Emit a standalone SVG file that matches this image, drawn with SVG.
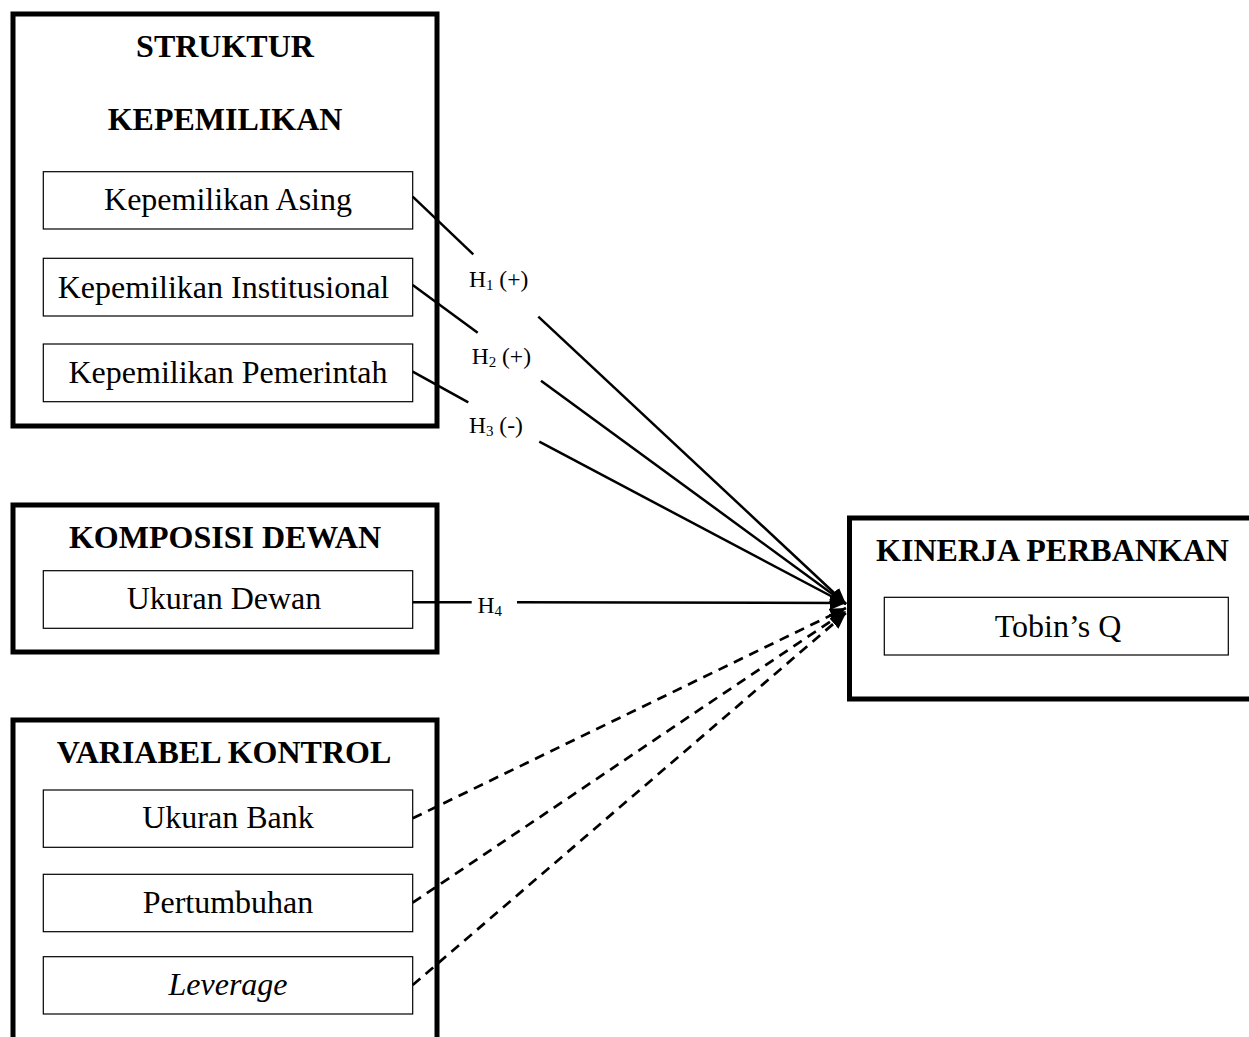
<svg xmlns="http://www.w3.org/2000/svg" width="1249" height="1037" viewBox="0 0 1249 1037">
<defs>
<style>
.outer{fill:#fff;stroke:#000;stroke-width:5}
.inner{fill:#fff;stroke:#000;stroke-width:1.2}
.title{font-family:"Liberation Serif","Times New Roman",serif;font-weight:bold;font-size:32px;text-anchor:middle;fill:#000}
.item{font-family:"Liberation Serif","Times New Roman",serif;font-size:32px;text-anchor:middle;fill:#000}
.lbl{font-family:"Liberation Serif","Times New Roman",serif;font-size:23.5px;fill:#000}
.sub{font-size:15px}
.line{fill:none;stroke:#000;stroke-width:2.5}
.dash{fill:none;stroke:#000;stroke-width:2.7;stroke-dasharray:10 7}
</style>
<marker id="arr" markerUnits="userSpaceOnUse" markerWidth="18" markerHeight="14" refX="16" refY="7" orient="auto">
<path d="M0,0 L16,7 L0,14 Z" fill="#000"/>
</marker>
</defs>
<rect width="1249" height="1037" fill="#fff"/>

<g id="struktur-kepemilikan">
<rect class="outer" x="13" y="14" width="424" height="412"/>
<text class="title" x="225" y="57">STRUKTUR</text>
<text class="title" x="225" y="130">KEPEMILIKAN</text>
<rect class="inner" x="43.3" y="171.7" width="369.4" height="57.3"/>
<text class="item" x="228" y="210">Kepemilikan Asing</text>
<rect class="inner" x="43.3" y="258.3" width="369.4" height="57.7"/>
<text class="item" x="223.5" y="297.7">Kepemilikan Institusional</text>
<rect class="inner" x="43.3" y="344" width="369.4" height="57.7"/>
<text class="item" x="228" y="382.7">Kepemilikan Pemerintah</text>
</g>

<g id="komposisi-dewan">
<rect class="outer" x="13" y="505" width="424" height="147"/>
<text class="title" x="225" y="548.3">KOMPOSISI DEWAN</text>
<rect class="inner" x="43.3" y="570.7" width="369.4" height="57.6"/>
<text class="item" x="224" y="609.3">Ukuran Dewan</text>
</g>

<g id="variabel-kontrol">
<rect class="outer" x="13" y="720" width="424" height="340"/>
<text class="title" x="224" y="763.3">VARIABEL KONTROL</text>
<rect class="inner" x="43.3" y="790" width="369.4" height="57.3"/>
<text class="item" x="228" y="828.3">Ukuran Bank</text>
<rect class="inner" x="43.3" y="874.3" width="369.4" height="57.4"/>
<text class="item" x="228" y="912.7">Pertumbuhan</text>
<rect class="inner" x="43.3" y="956.7" width="369.4" height="57.3"/>
<text class="item" x="228" y="995" font-style="italic">Leverage</text>
</g>

<g id="kinerja-perbankan">
<rect class="outer" x="849.5" y="518" width="420" height="181"/>
<text class="title" x="1052.5" y="561">KINERJA PERBANKAN</text>
<rect class="inner" x="884.3" y="597.3" width="344" height="57.7"/>
<text class="item" x="1058" y="636.7">Tobin’s Q</text>
</g>

<g id="connectors">
<line class="line" x1="412.7" y1="196.7" x2="473.3" y2="254.3"/>
<line class="line" x1="538.3" y1="316.7" x2="846" y2="604" marker-end="url(#arr)"/>
<line class="line" x1="412.7" y1="285" x2="477.7" y2="332.7"/>
<line class="line" x1="541" y1="380.7" x2="846" y2="604" marker-end="url(#arr)"/>
<line class="line" x1="412.7" y1="371.7" x2="468.3" y2="402.3"/>
<line class="line" x1="539.3" y1="441.7" x2="846" y2="604" marker-end="url(#arr)"/>
<line class="line" x1="412.7" y1="602.3" x2="471.7" y2="602.3"/>
<line class="line" x1="517" y1="602.3" x2="846" y2="603" marker-end="url(#arr)"/>
<line class="dash" x1="412.7" y1="818.3" x2="846" y2="608" marker-end="url(#arr)"/>
<line class="dash" x1="412.7" y1="902.7" x2="846" y2="611" marker-end="url(#arr)"/>
<line class="dash" x1="412.7" y1="985" x2="846" y2="613" marker-end="url(#arr)"/>
<text class="lbl" x="469" y="286.7">H<tspan class="sub" dy="3">1</tspan><tspan dy="-3"> (+)</tspan></text>
<text class="lbl" x="471.7" y="364">H<tspan class="sub" dy="3">2</tspan><tspan dy="-3"> (+)</tspan></text>
<text class="lbl" x="469" y="432.7">H<tspan class="sub" dy="3">3</tspan><tspan dy="-3"> (-)</tspan></text>
<text class="lbl" x="477.5" y="613.3">H<tspan class="sub" dy="3">4</tspan></text>
</g>
</svg>
